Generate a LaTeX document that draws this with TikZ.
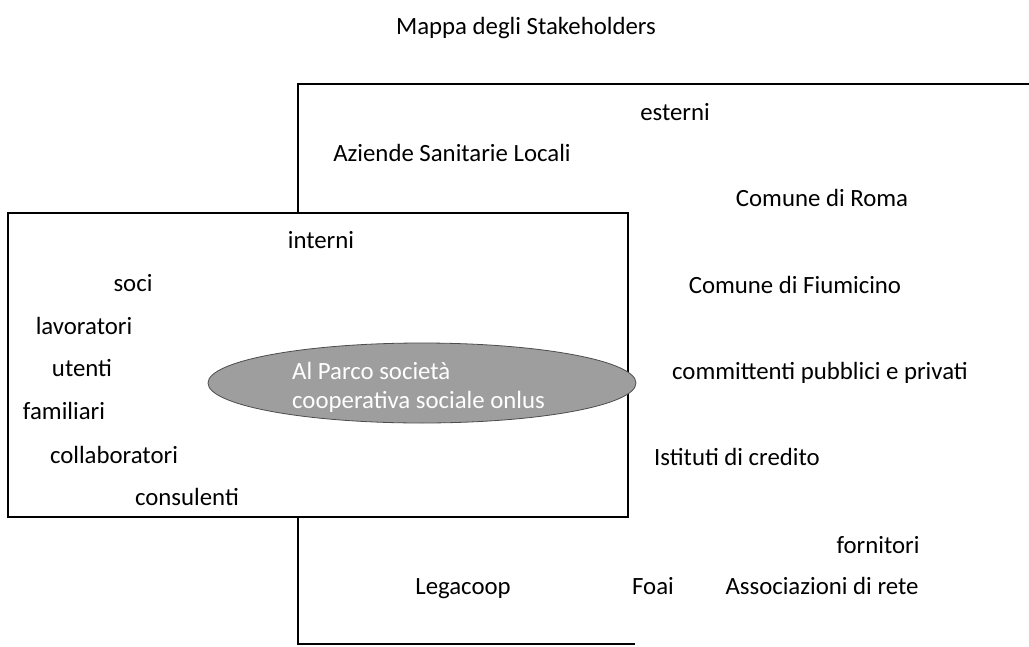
\documentclass[tikz,border=0pt]{standalone}
\usepackage{fontspec}
\setmainfont{Carlito}
\usetikzlibrary{shapes.geometric}
\begin{document}
\begin{tikzpicture}[x=1pt,y=-1pt,
  lbl/.style={inner sep=0pt,anchor=mid,yshift=-5pt,font=\fontsize{24.8}{29}\selectfont},
  frame/.style={draw=black,line width=1.6pt}]
\useasboundingbox (0,0) rectangle (1029,646);
% outer (esterni) box
\coordinate (otr) at (1029,84);
\coordinate (otl) at (298,84);
\coordinate (obl) at (298,644);
\coordinate (obr) at (635,644);
\draw[frame] (otr) -- (otl) -- (obl) -- (obr);
% inner (interni) box
\node[frame,fill=white,rectangle,minimum width=620pt,minimum height=304pt,inner sep=0pt,anchor=north west] (inner) at (7,212) {};
% central ellipse
\node[ellipse,draw=black!70,line width=0.8pt,fill=black!38,minimum width=428pt,minimum height=80pt,inner sep=0pt] (core) at (422,383) {};
\node[inner sep=0pt,font=\fontsize{24.8}{29}\selectfont,anchor=west,text=white,align=left] (coretxt) at (292,387) {Al Parco società\\cooperativa sociale onlus};
% title
\node[lbl] (title) at (526,27) {Mappa degli Stakeholders};
% esterni
\node[lbl] (esterni) at (675,113) {esterni};
\node[lbl] (asl) at (452,154) {Aziende Sanitarie Locali};
\node[lbl] (roma) at (822,199) {Comune di Roma};
\node[lbl] (fiumicino) at (795,286) {Comune di Fiumicino};
\node[lbl] (committenti) at (820,372) {committenti pubblici e privati};
\node[lbl] (credito) at (737,458) {Istituti di credito};
\node[lbl] (fornitori) at (878,546) {fornitori};
\node[lbl] (legacoop) at (463,587) {Legacoop};
\node[lbl] (foai) at (653,587) {Foai};
\node[lbl] (assoc) at (822,587) {Associazioni di rete};
% interni
\node[lbl] (interni) at (321,241) {interni};
\node[lbl] (soci) at (133,284) {soci};
\node[lbl] (lavoratori) at (84,327) {lavoratori};
\node[lbl] (utenti) at (82,369) {utenti};
\node[lbl] (familiari) at (64,412) {familiari};
\node[lbl] (collab) at (114,456) {collaboratori};
\node[lbl] (consulenti) at (187,498) {consulenti};
\end{tikzpicture}
\end{document}
